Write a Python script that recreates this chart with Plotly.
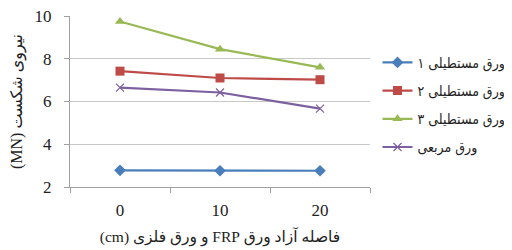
import plotly.graph_objects as go

categories = ["0", "10", "20"]
names = ["ورق مستطیلی ۱", "ورق مستطیلی ۲", "ورق مستطیلی ۳", "ورق مربعی"]
s1 = [2.78, 2.76, 2.76]
s2 = [7.42, 7.1, 7.02]
s3 = [9.74, 8.45, 7.6]
s4 = [6.65, 6.42, 5.67]
colors = ["#4a7ebb", "#be4b48", "#98b954", "#7d60a0"]
symbols = ["diamond", "square", "triangle-up", "x-thin"]
y_ticks = [2, 4, 6, 8, 10]

RLE, PDF = "\u202b", "\u202c"

fig = go.Figure()
for i, (nm, vals) in enumerate(zip(names, [s1, s2, s3, s4])):
    fig.add_trace(go.Scatter(
        x=categories, y=vals, name=nm, mode="lines+markers",
        legendgroup=str(i),
        line=dict(color=colors[i], width=2.2),
        marker=dict(symbol=symbols[i], size=9 if i != 3 else 8, color=colors[i],
                    line=dict(color=colors[i], width=1.2 if i == 3 else 0)),
    ))

serif = "Liberation Serif, DejaVu Sans, serif"
fig.update_layout(
    width=504, height=242,
    margin=dict(l=62, r=142, t=8, b=63, autoexpand=False),
    paper_bgcolor="white", plot_bgcolor="white",
    font=dict(family=serif, size=14, color="#222"),
    showlegend=True,
    legend=dict(x=1.025, y=0.82, xanchor="left", yanchor="top",
                tracegroupgap=7,
                font=dict(size=14, family="DejaVu Sans Condensed, DejaVu Sans, sans-serif"),
                itemwidth=30),
    xaxis=dict(type="category", tickson="boundaries", ticks="outside",
               range=[-0.5, 2.5], autorange=False, automargin=False,
               ticklen=5, tickcolor="#a0a0a0", showline=True, linecolor="#a0a0a0",
               linewidth=1, showgrid=False, ticklabelstandoff=8,
               ticklabeloverflow="allow",
               tickfont=dict(size=17),
               title=dict(text=RLE + "فاصله آزاد ورق FRP و ورق فلزی (cm)" + PDF,
                          font=dict(size=15.5), standoff=11)),
    yaxis=dict(range=[2, 10], autorange=False, automargin=False,
               tickvals=y_ticks, showgrid=True, gridcolor="#c8c8c8",
               gridwidth=1, showline=True, linecolor="#a0a0a0", ticks="outside",
               ticklen=5, tickcolor="#a0a0a0", zeroline=False, ticklabelstandoff=9,
               ticklabeloverflow="allow",
               tickfont=dict(size=17),
               title=dict(text=RLE + "نیروی شکست (MN)" + PDF, font=dict(size=16), standoff=8)),
)
fig.write_html("out.html")
